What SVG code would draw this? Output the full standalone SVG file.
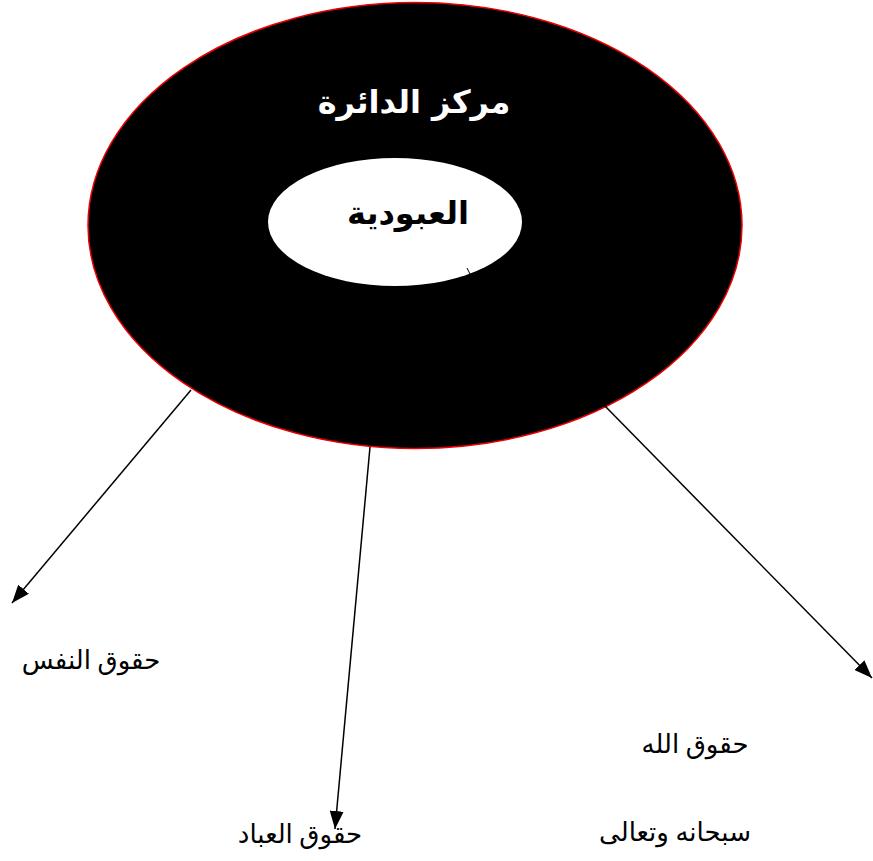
<svg xmlns="http://www.w3.org/2000/svg" width="873" height="861" viewBox="0 0 873 861">
<style>
.lbl{font-family:"Liberation Serif","DejaVu Sans",serif;font-size:26px;fill:#000;text-anchor:middle}
.bold{font-family:"DejaVu Sans","Liberation Sans",sans-serif;font-weight:bold;font-size:32px;text-anchor:middle}
.conn{stroke:#000;stroke-width:1.5;fill:none}
</style>
<defs>
<marker id="ah" viewBox="0 0 18 14" refX="18" refY="7" markerWidth="18" markerHeight="14" orient="auto" markerUnits="userSpaceOnUse">
<path d="M0,0 L18,7 L0,14 Z" fill="#000"/>
</marker>
</defs>
<rect width="873" height="861" fill="#fff"/>
<g id="outer">
<ellipse cx="415" cy="225.5" rx="327" ry="223" fill="#000" stroke="#e00" stroke-width="1.5"/>
<text class="bold" x="414" y="113" fill="#fff" direction="rtl">مركز الدائرة</text>
</g>
<g id="inner">
<ellipse cx="395" cy="222" rx="127" ry="64" fill="#fff"/>
<text class="bold" x="408" y="224" fill="#000" direction="rtl">العبودية</text>
<line x1="467" y1="268" x2="470" y2="274" stroke="#000" stroke-width="1"/>
</g>
<g id="connectors">
<line class="conn" x1="191" y1="390" x2="12" y2="603" marker-end="url(#ah)"/>
<line class="conn" x1="370" y1="447" x2="335" y2="829" marker-end="url(#ah)"/>
<line class="conn" x1="604" y1="405" x2="872" y2="678" marker-end="url(#ah)"/>
</g>
<g id="nafs"><text class="lbl" x="91" y="669" direction="rtl">حقوق النفس</text></g>
<g id="ibad"><text class="lbl" x="300" y="843" direction="rtl">حقوق العباد</text></g>
<g id="allah">
<text class="lbl" x="695" y="753" direction="rtl">حقوق الله</text>
<text class="lbl" x="675" y="841" direction="rtl">سبحانه وتعالى</text>
</g>
</svg>
